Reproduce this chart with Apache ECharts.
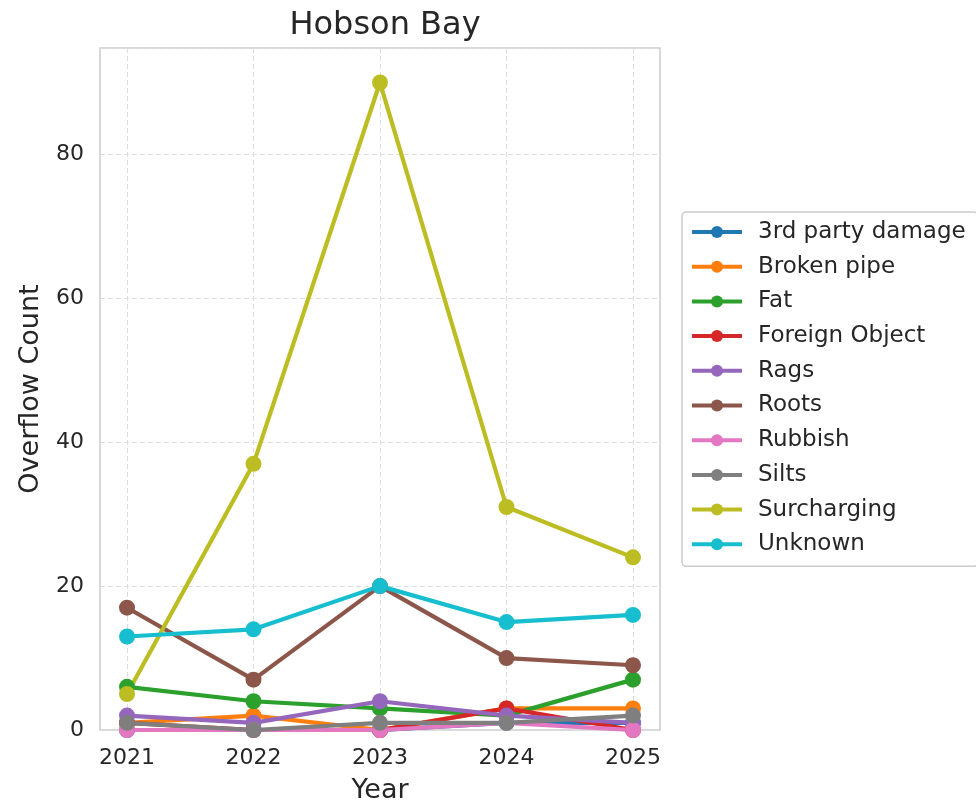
<!DOCTYPE html>
<html>
<head>
<meta charset="utf-8">
<script src="https://cdn.jsdelivr.net/npm/echarts@6/dist/echarts.min.js"></script>
<style>
    html, body { margin: 0; padding: 0; background: #fff; }
    #main { width: 976px; height: 812px; }
</style>
</head>
<body>
<div id="main"></div>
<script>
var years = ['2021', '2022', '2023', '2024', '2025'];
var causeNames = ['3rd party damage', 'Broken pipe', 'Fat', 'Foreign Object', 'Rags',
    'Roots', 'Rubbish', 'Silts', 'Surcharging', 'Unknown'];
var colors = ['#1f77b4', '#ff7f0e', '#2ca02c', '#d62728', '#9467bd',
    '#8c564b', '#e377c2', '#7f7f7f', '#bcbd22', '#17becf'];

// overflow counts per cause, 2021..2025
var thirdParty = [0, 0, 0, 1, 1];
var brokenPipe = [1, 2, 0, 3, 3];
var fat = [6, 4, 3, 2, 7];
var foreignObject = [1, 0, 0, 3, 0];
var rags = [2, 1, 4, 2, 1];
var roots = [17, 7, 20, 10, 9];
var rubbish = [0, 0, 0, 1, 0];
var silts = [1, 0, 1, 1, 2];
var surcharging = [5, 37, 90, 31, 24];
var unknown = [13, 14, 20, 15, 16];

var allData = [thirdParty, brokenPipe, fat, foreignObject, rags,
    roots, rubbish, silts, surcharging, unknown];

var font = 'DejaVu Sans';
var yMax = 94.8;

var series = [];
for (var i = 0; i < causeNames.length; i++) {
    series.push({
        name: causeNames[i],
        type: 'line',
        xAxisIndex: 1,
        yAxisIndex: 1,
        data: allData[i],
        symbol: 'circle',
        symbolSize: 16,
        lineStyle: { width: 4.2, color: colors[i] },
        itemStyle: { color: colors[i] },
        emphasis: { disabled: true }
    });
}

var myChart = echarts.init(document.getElementById('main'), null, { renderer: 'canvas' });
var option = {
    animation: false,
    backgroundColor: '#fff',
    textStyle: { fontFamily: font },
    title: {
        text: 'Hobson Bay',
        left: 380,
        top: 5,
        textAlign: 'center',
        textStyle: { fontFamily: font, fontSize: 32, fontWeight: 'normal', color: '#262626' }
    },
    grid: [
        { left: 100, right: 316, top: 48, bottom: 82, show: true, borderColor: '#cccccc', borderWidth: 1.5, backgroundColor: 'transparent' },
        { left: 127, right: 343, top: 48, bottom: 82 }
    ],
    xAxis: [
        {
            gridIndex: 0, type: 'value', min: 0, max: 1, show: true,
            axisLine: { show: false }, axisTick: { show: false }, axisLabel: { show: false }, splitLine: { show: false },
            name: 'Year', nameLocation: 'middle', nameGap: 47,
            nameTextStyle: { fontFamily: font, fontSize: 27, color: '#262626' }
        },
        {
            gridIndex: 1, type: 'category', data: years, boundaryGap: false,
            axisLine: { show: false }, axisTick: { show: false },
            axisLabel: { fontFamily: font, fontSize: 22, color: '#262626', margin: 17 },
            splitLine: { show: true, lineStyle: { color: '#dddddd', type: [5, 3], width: 1 } }
        }
    ],
    yAxis: [
        {
            gridIndex: 0, type: 'value', min: 0, max: yMax, interval: 20,
            axisLine: { show: false }, axisTick: { show: false },
            axisLabel: { fontFamily: font, fontSize: 22, color: '#262626', margin: 16, showMaxLabel: false },
            splitLine: { show: true, lineStyle: { color: '#dddddd', type: [5, 3], width: 1 } },
            name: 'Overflow Count', nameLocation: 'middle', nameGap: 56,
            nameTextStyle: { fontFamily: font, fontSize: 27, color: '#262626' }
        },
        {
            gridIndex: 1, type: 'value', min: 0, max: yMax, show: false, splitLine: { show: false }
        }
    ],
    legend: {
        orient: 'vertical',
        left: 682,
        top: 212,
        data: causeNames,
        itemWidth: 50,
        itemHeight: 15,
        itemGap: 10.7,
        padding: [8, 12, 10, 8],
        backgroundColor: '#ffffff',
        borderColor: '#cccccc',
        borderWidth: 1.5,
        borderRadius: 4,
        lineStyle: { width: 4 },
        textStyle: { fontFamily: font, fontSize: 23, lineHeight: 24, color: '#262626', padding: [0, 0, 0, 11] }
    },
    series: series
};
myChart.setOption(option);
</script>
</body>
</html>
